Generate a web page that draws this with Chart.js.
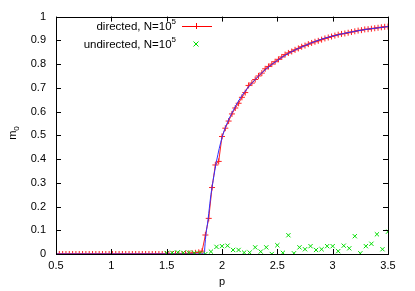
<!DOCTYPE html>
<html>
<head>
<meta charset="utf-8">
<script src="https://cdn.jsdelivr.net/npm/chart.js@4"></script>
<style>
  html, body { margin: 0; padding: 0; background: #fff; }
  #wrap { width: 415px; height: 291px; }
</style>
</head>
<body>
<div id="wrap"><canvas id="chart" width="415" height="291"></canvas></div>
<script>
// directed, N=10^5 (red line + points)
const pDirected = [0.50,0.53,0.56,0.59,0.62,0.65,0.68,0.71,0.74,0.77,0.80,0.83,0.86,0.89,0.92,0.95,0.98,1.01,1.04,1.07,
  1.10,1.13,1.16,1.19,1.22,1.25,1.28,1.31,1.34,1.37,1.40,1.43,1.46,1.49,1.52,1.55,1.58,1.61,1.64,1.67,
  1.70,1.73,1.76,1.79,1.82,1.85,1.88,1.91,1.94,1.97,2.00,2.03,2.06,2.09,2.12,2.15,2.18,2.21,2.24,2.27,
  2.30,2.33,2.36,2.39,2.42,2.45,2.48,2.51,2.54,2.57,2.60,2.63,2.66,2.69,2.72,2.75,2.78,2.81,2.84,2.87,
  2.90,2.93,2.96,2.99,3.02,3.05,3.08,3.11,3.14,3.17,3.20,3.23,3.26,3.29,3.32,3.35,3.38,3.41,3.44,3.47,3.50];
const mDirected = [0,0,0,0,0,0,0,0,0,0,0,0,0,0,0,0,0,0,0,0,
  0,0,0,0,0,0,0,0,0,0,0,0,0,0,0,0,0,0,0,0.002,
  0.003,0.004,0.005,0.007,0.012,0.08,0.15,0.28,0.375,0.39,0.495,0.53,0.56,0.59,0.615,0.635,0.66,0.68,0.71,0.72,
  0.735,0.75,0.762,0.78,0.79,0.80,0.81,0.82,0.83,0.84,0.847,0.853,0.86,0.866,0.873,0.878,0.884,0.889,0.894,0.898,
  0.903,0.908,0.912,0.916,0.92,0.924,0.927,0.929,0.932,0.935,0.938,0.941,0.943,0.946,0.947,0.949,0.951,0.953,0.955,0.957,0.958];

// undirected, N=10^5 (green x points)
const pUndirected = [1.50,1.55,1.60,1.65,1.70,1.75,1.80,1.85,1.90,1.95,2.00,2.05,2.10,2.15,2.20,2.25,2.30,2.35,2.40,2.45,
  2.50,2.55,2.60,2.65,2.70,2.75,2.80,2.85,2.90,2.95,3.00,3.05,3.10,3.15,3.20,3.25,3.30,3.35,3.40,3.45,3.50];
const mUndirected = [0.004,0.005,0.007,0.005,0.006,0.004,0.003,0.0,0.01,0.03,0.033,0.035,0.017,0.017,0.006,0.006,0.028,0.01,0.028,0.0,
  0.037,0.005,0.079,0.003,0.028,0.02,0.033,0.017,0.02,0.033,0.033,0.012,0.035,0.024,0.075,0.003,0.033,0.043,0.083,0.02,0.094];

// theory curve (blue line, not in key)
const pTheory = [0.50,1.84,1.845,1.85,1.86,1.87,1.88,1.90,1.92,1.95,2.00,2.05,2.10,2.15,2.20,2.30,2.40,2.50,2.60,2.70,
  2.80,2.90,3.00,3.10,3.20,3.30,3.40,3.50];
const mTheory = [0,0,0.03,0.06,0.10,0.13,0.17,0.25,0.31,0.39,0.49,0.555,0.603,0.645,0.68,0.735,0.78,0.815,0.845,0.868,
  0.888,0.905,0.918,0.929,0.938,0.946,0.952,0.958];

const seriesNames = ['directed, N=10', 'undirected, N=10'];
const xTicks = [0.5, 1, 1.5, 2, 2.5, 3, 3.5];
const xTickLabels = ['0.5', '1', '1.5', '2', '2.5', '3', '3.5'];
const yTicks = [0, 0.1, 0.2, 0.3, 0.4, 0.5, 0.6, 0.7, 0.8, 0.9, 1];
const yTickLabels = ['0', '0.1', '0.2', '0.3', '0.4', '0.5', '0.6', '0.7', '0.8', '0.9', '1'];

const FONT = '"Liberation Sans", Arial, sans-serif';
const pts = (xs, ys) => xs.map((x, i) => ({ x: x, y: ys[i] }));

// gnuplot style frame: border plus inward ticks on all four sides
const framePlugin = {
  id: 'frame',
  afterDraw(chart) {
    const { ctx, chartArea: a, scales } = chart;
    ctx.save();
    ctx.strokeStyle = '#000';
    ctx.lineWidth = 1;
    ctx.beginPath();
    xTicks.forEach(v => {
      const x = Math.round(scales.x.getPixelForValue(v)) + 0.5;
      ctx.moveTo(x, a.bottom); ctx.lineTo(x, a.bottom - 5);
      ctx.moveTo(x, a.top); ctx.lineTo(x, a.top + 5);
    });
    yTicks.forEach(v => {
      const y = Math.round(scales.y.getPixelForValue(v)) + 0.5;
      ctx.moveTo(a.left, y); ctx.lineTo(a.left + 5, y);
      ctx.moveTo(a.right, y); ctx.lineTo(a.right - 5, y);
    });
    ctx.stroke();
    ctx.strokeRect(Math.round(a.left) + 0.5, Math.round(a.top) + 0.5,
      Math.round(a.right - a.left), Math.round(a.bottom - a.top));

    // y title m_0, rotated, with subscript
    ctx.save();
    ctx.translate(12, 133);
    ctx.rotate(-Math.PI / 2);
    ctx.fillStyle = '#000';
    ctx.textBaseline = 'alphabetic';
    ctx.textAlign = 'left';
    ctx.font = '11px ' + FONT;
    const mW = ctx.measureText('m').width;
    ctx.font = '8px ' + FONT;
    const zW = ctx.measureText('0').width;
    ctx.font = '11px ' + FONT;
    ctx.fillText('m', -(mW + zW) / 2, 4);
    ctx.font = '8px ' + FONT;
    ctx.fillText('0', -(mW + zW) / 2 + mW, 7);
    ctx.restore();

    // key, text right aligned with sample to its right
    const rows = [
      { text: seriesNames[0], y: 27, line: '#ff0000', mark: 'plus', color: '#ff0000' },
      { text: seriesNames[1], y: 45, line: null, mark: 'x', color: '#00dd00' }
    ];
    rows.forEach(r => {
      ctx.font = '8px ' + FONT;
      const supW = ctx.measureText('5').width;
      const right = 176;
      ctx.fillStyle = '#000';
      ctx.textBaseline = 'middle';
      ctx.textAlign = 'right';
      ctx.fillText('5', right, r.y - 5);
      ctx.font = '11.5px ' + FONT;
      ctx.fillText(r.text, right - supW, r.y);
      const mx = 196, my = r.y - 1;
      if (r.line) {
        ctx.strokeStyle = r.line;
        ctx.beginPath(); ctx.moveTo(182, my + 0.5); ctx.lineTo(212, my + 0.5); ctx.stroke();
      }
      ctx.strokeStyle = r.color;
      ctx.beginPath();
      if (r.mark === 'plus') {
        ctx.moveTo(mx - 3, my + 0.5); ctx.lineTo(mx + 3, my + 0.5);
        ctx.moveTo(mx + 0.5, my - 3); ctx.lineTo(mx + 0.5, my + 3);
      } else {
        ctx.moveTo(mx - 2.5, my - 2.5); ctx.lineTo(mx + 2.5, my + 2.5);
        ctx.moveTo(mx - 2.5, my + 2.5); ctx.lineTo(mx + 2.5, my - 2.5);
      }
      ctx.stroke();
    });
    ctx.restore();
  }
};

new Chart(document.getElementById('chart').getContext('2d'), {
  type: 'scatter',
  data: {
    datasets: [
      {
        label: seriesNames[1],
        data: pts(pUndirected, mUndirected),
        showLine: false,
        pointStyle: 'crossRot',
        pointRadius: 3,
        borderColor: '#00dd00',
        borderWidth: 1
      },
      {
        label: 'theory',
        data: pts(pTheory, mTheory),
        showLine: true,
        pointRadius: 0,
        borderColor: '#3030ff',
        borderWidth: 1,
        cubicInterpolationMode: 'monotone'
      },
      {
        label: seriesNames[0],
        data: pts(pDirected, mDirected),
        showLine: true,
        pointStyle: 'cross',
        pointRadius: 3,
        borderColor: '#ff2020',
        pointBorderColor: '#ff2020',
        borderWidth: 1
      }
    ]
  },
  options: {
    responsive: false,
    animation: false,
    events: [],
    layout: { padding: { top: 14, right: 27, left: 0, bottom: 0 } },
    plugins: { legend: { display: false }, tooltip: { enabled: false } },
    scales: {
      x: {
        type: 'linear',
        min: 0.5,
        max: 3.5,
        afterBuildTicks: (s) => { s.ticks = xTicks.map(v => ({ value: v })); },
        afterFit: (s) => { s.height = 37; },
        grid: { display: false, tickLength: 0 },
        border: { display: false },
        ticks: {
          color: '#000', font: { family: FONT, size: 11 }, padding: 5, maxRotation: 0,
          callback: (v, i) => xTickLabels[i]
        },
        title: { display: true, text: 'p', color: '#000', font: { family: FONT, size: 11 }, padding: { top: 3, bottom: 2 } }
      },
      y: {
        type: 'linear',
        min: 0,
        max: 1,
        afterBuildTicks: (s) => { s.ticks = yTicks.map(v => ({ value: v })); },
        afterFit: (s) => { s.width = 56; },
        grid: { display: false, tickLength: 0 },
        border: { display: false },
        ticks: {
          color: '#000', font: { family: FONT, size: 11 }, padding: 10,
          callback: (v, i) => yTickLabels[i]
        },
        title: { display: false }
      }
    }
  },
  plugins: [framePlugin]
});
</script>
</body>
</html>
